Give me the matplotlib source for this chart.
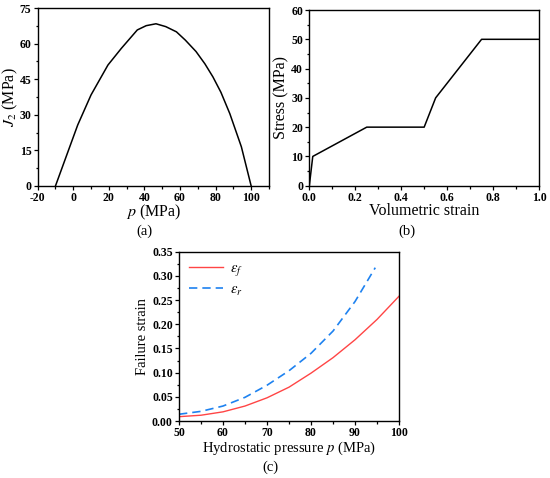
import numpy as np
import matplotlib
matplotlib.use("Agg")
import matplotlib.pyplot as plt
from matplotlib.ticker import AutoMinorLocator, MultipleLocator

plt.rcParams["font.family"] = ["Liberation Serif", "DejaVu Serif"]
plt.rcParams["mathtext.fontset"] = "stix"
plt.rcParams["axes.unicode_minus"] = False

# (a) yield surface J2 vs p
p_a = [-10, -3, 2.5, 10, 19.5, 27, 36, 41, 46.5, 52, 58, 63, 69, 74, 78.5, 83, 88, 94.5, 100]
j2_a = [0, 14.4, 25.7, 38.4, 51, 58, 65.8, 67.6, 68.4, 67.2, 65, 61.5, 56.7, 51.5, 46, 39.5, 30.5, 16.5, 0]

# (b) stress vs volumetric strain
strain_b = [0.0, 0.015, 0.25, 0.5, 0.55, 0.75, 1.0]
stress_b = [0, 10, 20, 20, 30, 50, 50]

# (c) failure strain vs hydrostatic pressure
p_c = [50, 55, 60, 65, 70, 75, 80, 85, 90, 95, 100]
eps_f = [0.009, 0.012, 0.019, 0.031, 0.048, 0.07, 0.099, 0.131, 0.168, 0.21, 0.258]
p_r = [50, 55, 60, 65, 70, 75, 80, 85, 90, 94.6]
eps_r = [0.014, 0.02, 0.031, 0.049, 0.074, 0.104, 0.14, 0.186, 0.247, 0.317]

TICK_FS = 8.5
LABEL_FS = 10.5


def style(ax):
    ax.tick_params(which="both", direction="out", width=0.9, labelsize=TICK_FS, pad=1.5)
    ax.tick_params(which="major", length=3)
    ax.tick_params(which="minor", length=1.8)
    ax.xaxis.set_minor_locator(AutoMinorLocator(2))
    ax.yaxis.set_minor_locator(AutoMinorLocator(2))
    for lab in ax.get_xticklabels() + ax.get_yticklabels():
        lab.set_fontweight("bold")
    for s in ax.spines.values():
        s.set_linewidth(1.0)


fig = plt.figure(figsize=(5.5, 4.78), dpi=100)

# ── (a) ──
ax1 = fig.add_axes([0.0685, 0.611, 0.4205, 0.372])
ax1.plot(p_a, j2_a, color="black", lw=1.1)
ax1.set_xlim(-20, 110)
ax1.set_ylim(0, 75)
ax1.xaxis.set_major_locator(MultipleLocator(20))
ax1.yaxis.set_major_locator(MultipleLocator(15))
ax1.set_xlabel(r"$p$ (MPa)", fontsize=LABEL_FS + 1, labelpad=-1)
ax1.set_ylabel(r"$J_2$ (MPa)", fontsize=LABEL_FS + 1, labelpad=0)
style(ax1)
fig.text(0.262, 0.517, "(a)", ha="center", va="center", fontsize=10.5)

# ── (b) ──
ax2 = fig.add_axes([0.5624, 0.6115, 0.4176, 0.3675])
ax2.plot(strain_b, stress_b, color="black", lw=1.1)
ax2.set_xlim(0, 1.0)
ax2.set_ylim(0, 60)
ax2.yaxis.set_major_locator(MultipleLocator(10))
ax2.set_xticks(np.arange(0, 1.01, 0.2))
ax2.set_xticklabels([f"{v:.1f}" for v in np.arange(0, 1.01, 0.2)])
ax2.set_xlabel("Volumetric strain", fontsize=LABEL_FS + 1, labelpad=-1)
ax2.set_ylabel("Stress (MPa)", fontsize=LABEL_FS + 1, labelpad=1)
style(ax2)
fig.text(0.74, 0.517, "(b)", ha="center", va="center", fontsize=10.5)

# ── (c) ──
ax3 = fig.add_axes([0.3255, 0.1192, 0.4, 0.3542])
ax3.plot(p_c, eps_f, color="#FF4545", lw=1.0, label=r"$\varepsilon_f$")
ax3.plot(p_r, eps_r, color="#1E82F0", lw=1.2, ls=(0, (5, 3)), label=r"$\varepsilon_r$")
ax3.set_xlim(50, 100)
ax3.set_ylim(0, 0.35)
ax3.xaxis.set_major_locator(MultipleLocator(10))
ax3.yaxis.set_major_locator(MultipleLocator(0.05))
ax3.yaxis.set_major_formatter(plt.FormatStrFormatter("%.2f"))
ax3.set_xlabel(r"Hydrostatic pressure $p$ (MPa)", fontsize=LABEL_FS, labelpad=0)
ax3.set_ylabel("Failure strain", fontsize=LABEL_FS, labelpad=2)
ax3.legend(loc="upper left", frameon=False, fontsize=10.5, handlelength=2.3,
           borderaxespad=0.3, labelspacing=0.35, handletextpad=0.5)
style(ax3)
fig.text(0.491, 0.023, "(c)", ha="center", va="center", fontsize=10.5)

fig.savefig("out.png", dpi=100)
